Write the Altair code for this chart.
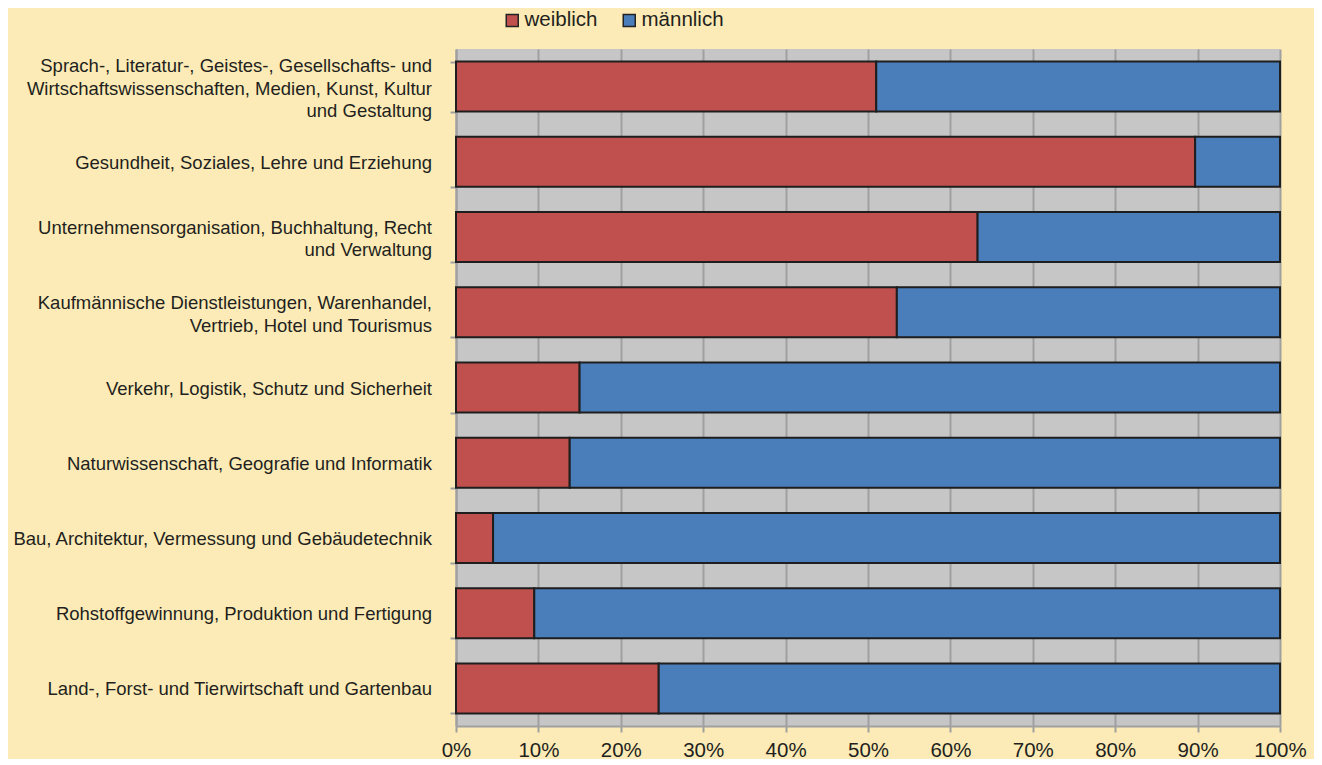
import altair as alt
import pandas as pd

categories = [
    "Sprach-, Literatur-, Geistes-, Gesellschafts- und|Wirtschaftswissenschaften, Medien, Kunst, Kultur|und Gestaltung",
    "Gesundheit, Soziales, Lehre und Erziehung",
    "Unternehmensorganisation, Buchhaltung, Recht|und Verwaltung",
    "Kaufmännische Dienstleistungen, Warenhandel,|Vertrieb, Hotel und Tourismus\u00a0",
    "Verkehr, Logistik, Schutz und Sicherheit",
    "Naturwissenschaft, Geografie und Informatik",
    "Bau, Architektur, Vermessung und Gebäudetechnik",
    "Rohstoffgewinnung, Produktion und Fertigung",
    "Land-, Forst- und Tierwirtschaft und Gartenbau",
]
weiblich = [51.0, 89.7, 63.3, 53.5, 15.0, 13.8, 4.5, 9.5, 24.6]
maennlich = [49.0, 10.3, 36.7, 46.5, 85.0, 86.2, 95.5, 90.5, 75.4]
series = ["weiblich", "männlich"]
colors = ["#C0504D", "#4A7EBB"]
x_ticks = [0, 10, 20, 30, 40, 50, 60, 70, 80, 90, 100]

rows = []
for c, w, m in zip(categories, weiblich, maennlich):
    rows.append({"Kategorie": c, "Geschlecht": series[0], "Anteil": w, "ord": 0})
    rows.append({"Kategorie": c, "Geschlecht": series[1], "Anteil": m, "ord": 1})
df = pd.DataFrame(rows)

lab = pd.DataFrame({"Kategorie": categories,
                    "n": [len(c.split("|")) for c in categories]})

font = "Liberation Sans"
txt = "#231F20"
LH = 22.5

yenc = alt.Y(
    "Kategorie:N",
    sort=categories,
    title=None,
    scale=alt.Scale(paddingInner=0.335, paddingOuter=0.1675),
    axis=alt.Axis(
        labels=False,
        tickBand="extent",
        tickSize=6,
        tickColor="#A0A0A0",
        tickWidth=2,
        domainColor="#A0A0A0",
        domainWidth=2,
        grid=False,
    ),
)

bars = alt.Chart(df).mark_bar(stroke="#1E1E1E", strokeWidth=2).encode(
    y=yenc,
    x=alt.X(
        "Anteil:Q",
        stack="zero",
        title=None,
        scale=alt.Scale(domain=[0, 100], nice=False),
        axis=alt.Axis(
            values=x_ticks,
            labelExpr="datum.value + '%'",
            labelFontSize=20.5,
            labelColor=txt,
            labelFont=font,
            labelPadding=8,
            labelFlush=False,
            tickSize=6,
            tickColor="#A0A0A0",
            tickWidth=2,
            domainColor="#A0A0A0",
            domainWidth=2,
            grid=True,
            gridColor="#A0A0A0",
            gridWidth=2,
        ),
    ),
    color=alt.Color(
        "Geschlecht:N",
        sort=series,
        scale=alt.Scale(domain=series, range=colors),
        legend=alt.Legend(
            title=None,
            orient="none",
            direction="horizontal",
            legendX=46,
            legendY=-39,
            symbolType="square",
            symbolSize=144,
            symbolStrokeColor="#222222",
            symbolStrokeWidth=1.5,
            symbolOpacity=1,
            labelFontSize=20.5,
            labelFont=font,
            labelColor=txt,
            labelOffset=2,
            columnPadding=21,
            padding=0,
        ),
    ),
    order=alt.Order("ord:Q"),
)

def label_layer(n):
    return alt.Chart(lab).transform_filter(f"datum.n == {n}").mark_text(
        align="right",
        baseline="middle",
        lineBreak="|",
        lineHeight=LH,
        fontSize=18.5,
        font=font,
        color=txt,
        dy=-(n - 1) * LH / 2 + (1 if n == 1 else 2),
    ).encode(
        y=alt.Y("Kategorie:N", sort=categories),
        x=alt.value(-24),
        text="Kategorie:N",
    )

chart = alt.layer(
    bars, label_layer(1), label_layer(2), label_layer(3)
).properties(
    width=824,
    height=677,
    autosize=alt.AutoSizeParams(type="none"),
    padding={"left": 448, "top": 41, "right": 34, "bottom": 33},
    background="#FCEBB6",
).configure(font=font).configure_view(
    fill="#C6C6C6",
    strokeWidth=0,
)

chart.save("out.html", embed_options={"renderer": "svg", "actions": False})
